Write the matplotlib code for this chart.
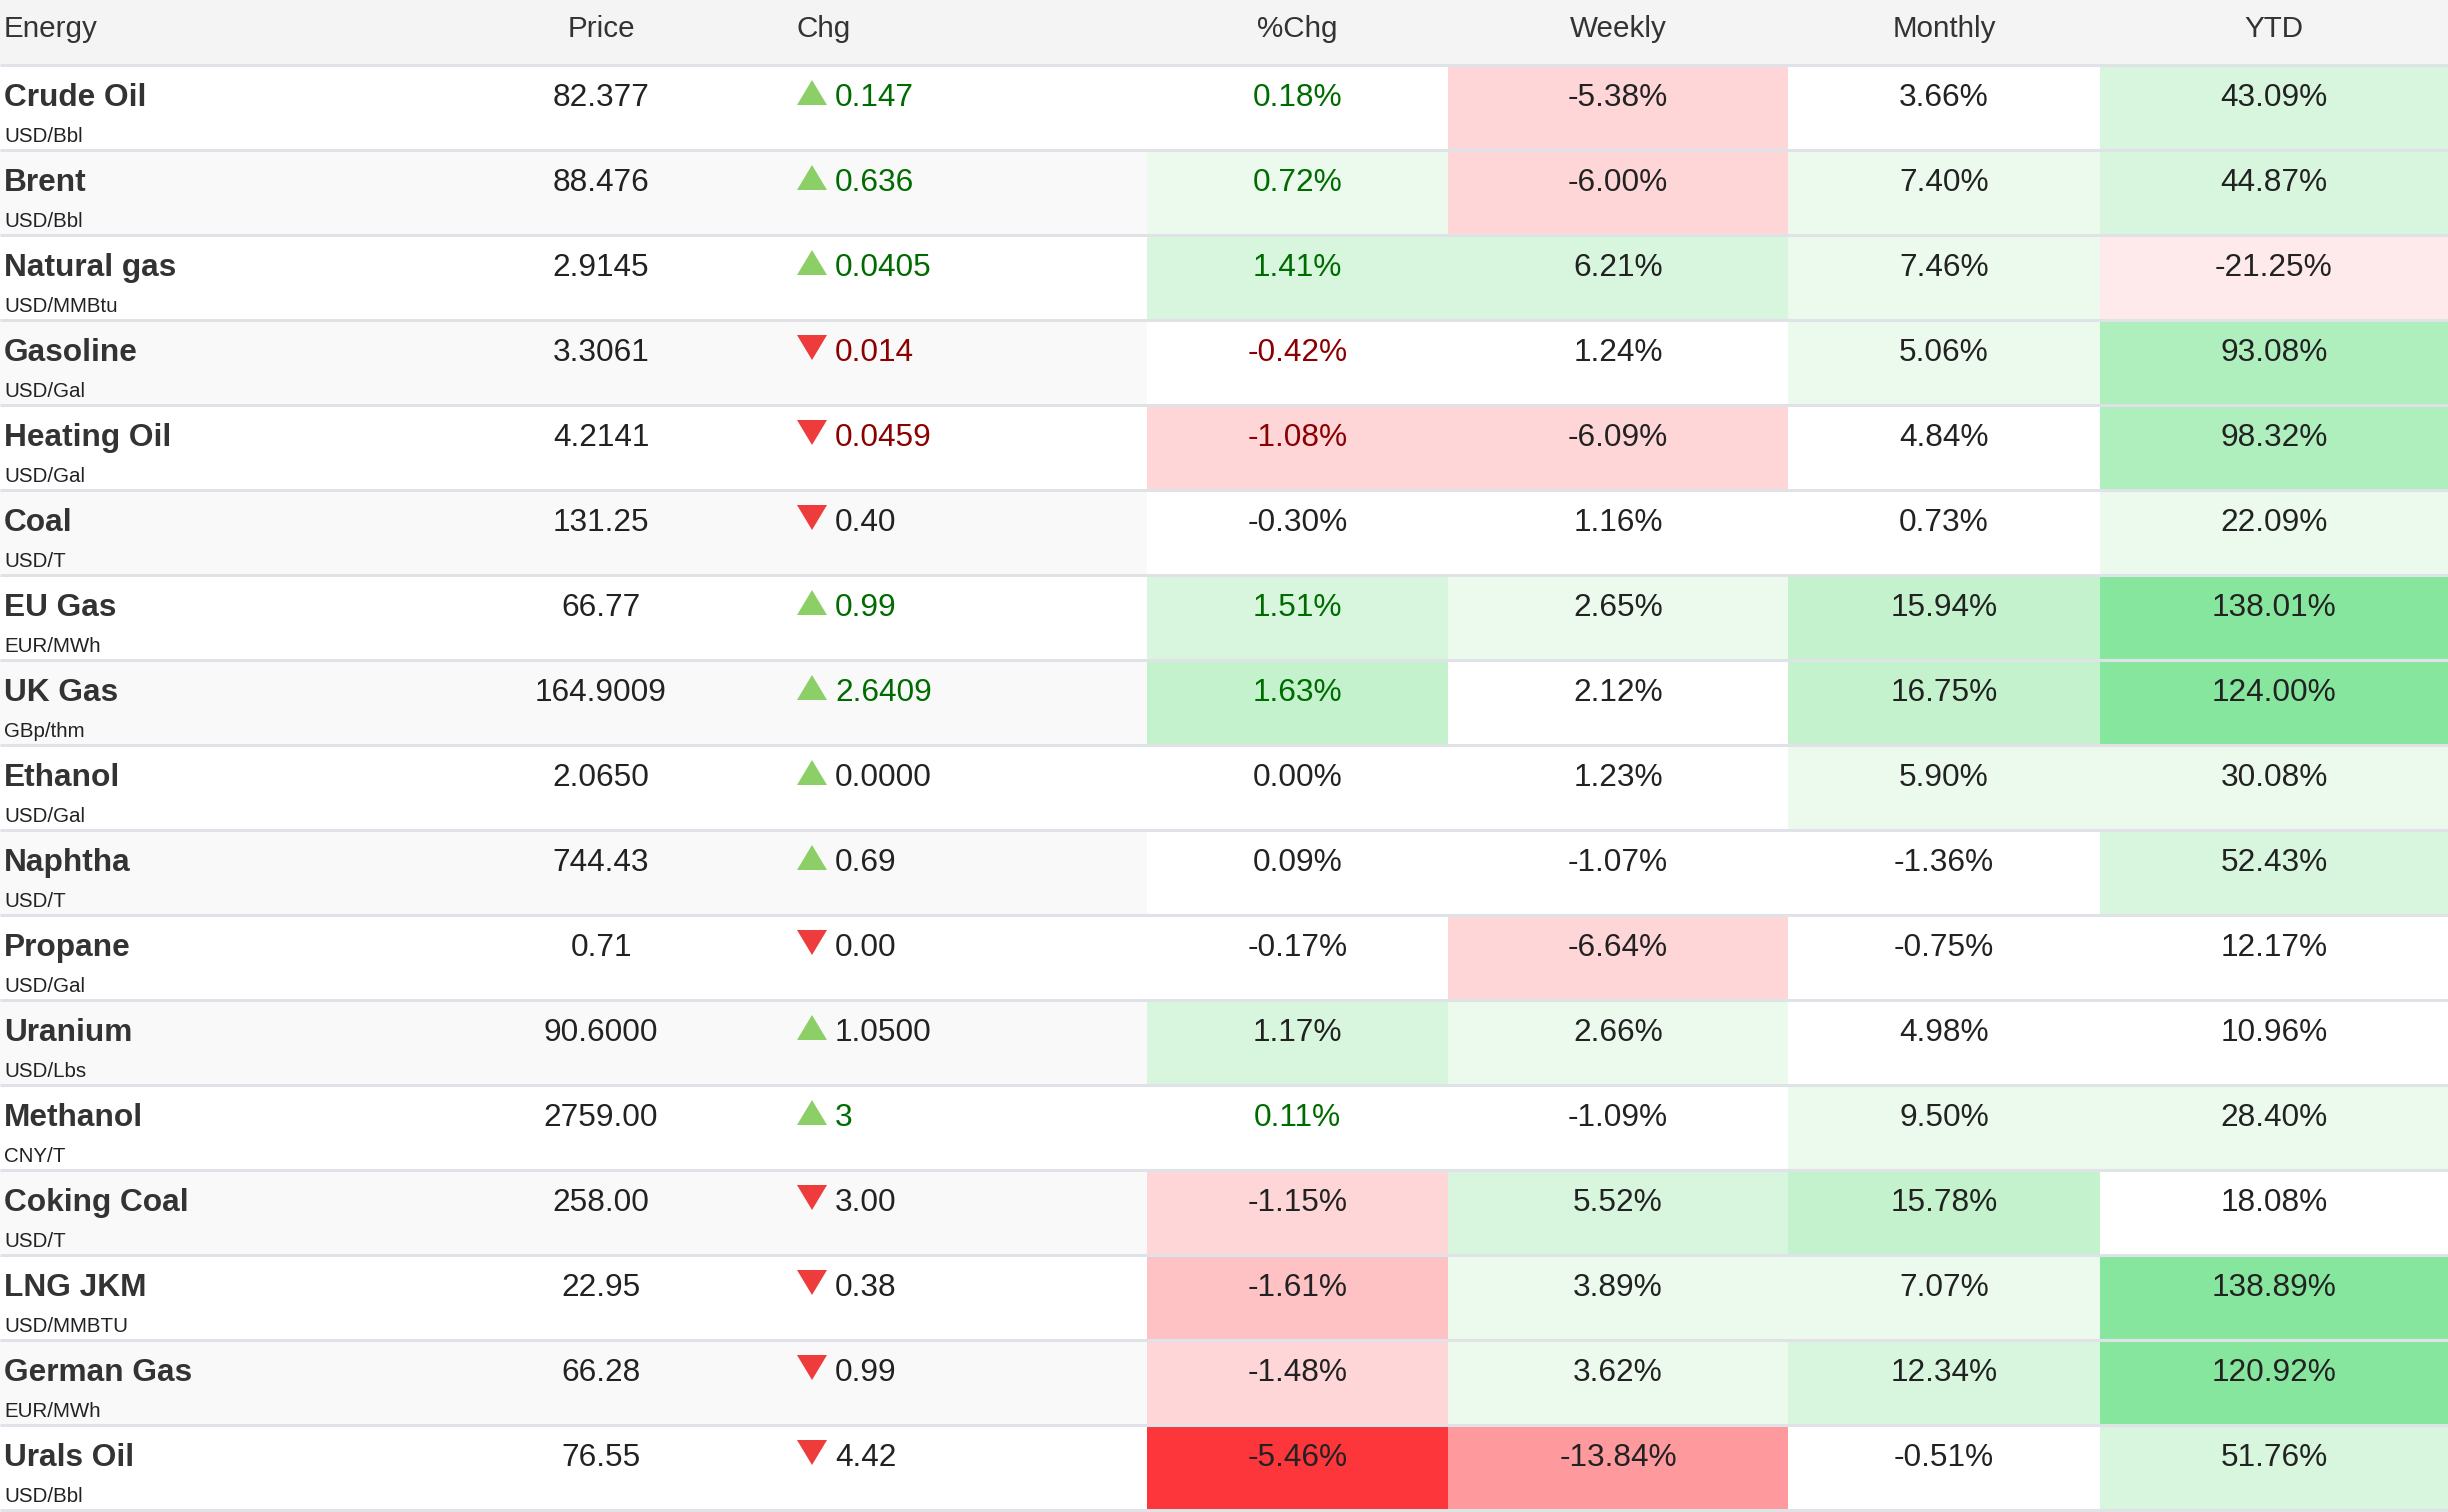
import matplotlib
matplotlib.use("Agg")
import matplotlib.pyplot as plt
from matplotlib.patches import Rectangle, Polygon

plt.rcParams['font.family'] = ['Liberation Sans', 'DejaVu Sans']

# table data
names = ['Crude Oil', 'Brent', 'Natural gas', 'Gasoline', 'Heating Oil', 'Coal',
         'EU Gas', 'UK Gas', 'Ethanol', 'Naphtha', 'Propane', 'Uranium',
         'Methanol', 'Coking Coal', 'LNG JKM', 'German Gas', 'Urals Oil']
units = ['USD/Bbl', 'USD/Bbl', 'USD/MMBtu', 'USD/Gal', 'USD/Gal', 'USD/T',
         'EUR/MWh', 'GBp/thm', 'USD/Gal', 'USD/T', 'USD/Gal', 'USD/Lbs',
         'CNY/T', 'USD/T', 'USD/MMBTU', 'EUR/MWh', 'USD/Bbl']
prices = ['82.377', '88.476', '2.9145', '3.3061', '4.2141', '131.25', '66.77',
          '164.9009', '2.0650', '744.43', '0.71', '90.6000', '2759.00', '258.00',
          '22.95', '66.28', '76.55']
chg = ['0.147', '0.636', '0.0405', '0.014', '0.0459', '0.40', '0.99', '2.6409',
       '0.0000', '0.69', '0.00', '1.0500', '3', '3.00', '0.38', '0.99', '4.42']
chg_up = [True, True, True, False, False, False, True, True, True, True,
          False, True, True, False, False, False, False]
live = [True, True, True, True, True, False, True, True, False, False,
        False, False, True, False, False, False, False]
pct_chg = [0.18, 0.72, 1.41, -0.42, -1.08, -0.30, 1.51, 1.63, 0.00, 0.09,
           -0.17, 1.17, 0.11, -1.15, -1.61, -1.48, -5.46]
weekly = [-5.38, -6.00, 6.21, 1.24, -6.09, 1.16, 2.65, 2.12, 1.23, -1.07,
          -6.64, 2.66, -1.09, 5.52, 3.89, 3.62, -13.84]
monthly = [3.66, 7.40, 7.46, 5.06, 4.84, 0.73, 15.94, 16.75, 5.90, -1.36,
           -0.75, 4.98, 9.50, 15.78, 7.07, 12.34, -0.51]
ytd = [43.09, 44.87, -21.25, 93.08, 98.32, 22.09, 138.01, 124.00, 30.08, 52.43,
       12.17, 10.96, 28.40, 18.08, 138.89, 120.92, 51.76]

# heat columns: (header, values, step per colour level)
heat_cols = [('%Chg', pct_chg, 0.52), ('Weekly', weekly, 2.5),
             ('Monthly', monthly, 5.0), ('YTD', ytd, 20.0)]
heat_edges = [1147, 1448, 1788, 2100, 2448]

W, H = 2448, 1512
head_h, row_h = 65, 85
line_c = '#dfe2e6'
txt_c = '#222222'
head_fs, val_fs, unit_fs = 21.3, 22.8, 14.8


def heat_color(v, step):
    lvl = min(int(abs(v) / step), 10)
    if lvl == 0:
        return '#ffffff'
    if v > 0:
        c = (255 - 20 * lvl, 254 - 4 * lvl, 253 - 16 * lvl)
    else:
        c = (255 - 0.3 * lvl, 254 - 20 * lvl, 255 - 19.6 * lvl)
    return tuple(min(max(x, 0), 255) / 255 for x in c)


fig = plt.figure(figsize=(W / 100, H / 100), dpi=100)
ax = fig.add_axes([0, 0, 1, 1])
ax.set_xlim(0, W)
ax.set_ylim(H, 0)
ax.axis('off')

# header
ax.add_patch(Rectangle((0, 0), W, head_h, color='#f4f4f4', lw=0))
hy = 37
ax.text(4, hy, 'Energy', fontsize=head_fs, color='#333333', va='baseline')
ax.text(601, hy, 'Price', fontsize=head_fs, color='#333333', va='baseline', ha='center')
ax.text(797, hy, 'Chg', fontsize=head_fs, color='#333333', va='baseline')
for j, (title, vals, step) in enumerate(heat_cols):
    cx = (heat_edges[j] + heat_edges[j + 1]) / 2
    ax.text(cx, hy, title, fontsize=head_fs, color='#333333', va='baseline', ha='center')

for i, name in enumerate(names):
    top = head_h + i * row_h
    bg = '#f9f9f9' if i % 2 == 1 else '#ffffff'
    ax.add_patch(Rectangle((0, top), heat_edges[0], row_h, color=bg, lw=0))
    for j, (title, vals, step) in enumerate(heat_cols):
        x0, x1 = heat_edges[j], heat_edges[j + 1]
        ax.add_patch(Rectangle((x0, top), x1 - x0, row_h,
                               color=heat_color(vals[i], step), lw=0))

    base = top + 41
    ax.text(4, base, name, fontsize=val_fs, fontweight='bold', color='#333333', va='baseline')
    ax.text(4, top + 77, units[i], fontsize=unit_fs, color=txt_c, va='baseline')
    ax.text(601, base, prices[i], fontsize=val_fs, color=txt_c, va='baseline', ha='center')

    if live[i]:
        vc = '#006b00' if chg_up[i] else '#8b0000'
    else:
        vc = txt_c
    if chg_up[i]:
        tri = [(797, top + 40), (827, top + 40), (812, top + 15)]
        tc = '#8ccf66'
    else:
        tri = [(797, top + 15), (827, top + 15), (812, top + 40)]
        tc = '#ee3b3b'
    ax.add_patch(Polygon(tri, closed=True, color=tc, lw=0))
    ax.text(835, base, chg[i], fontsize=val_fs, color=vc, va='baseline')

    for j, (title, vals, step) in enumerate(heat_cols):
        cx = (heat_edges[j] + heat_edges[j + 1]) / 2
        c = vc if j == 0 else txt_c
        ax.text(cx, base, '{:.2f}%'.format(vals[i]), fontsize=val_fs, color=c,
                va='baseline', ha='center')

# separators
for i in range(len(names) + 1):
    y = head_h + i * row_h
    ax.plot([0, W], [y, y], color=line_c, lw=2.2, solid_capstyle='butt')

fig.savefig('out.png', dpi=100)
